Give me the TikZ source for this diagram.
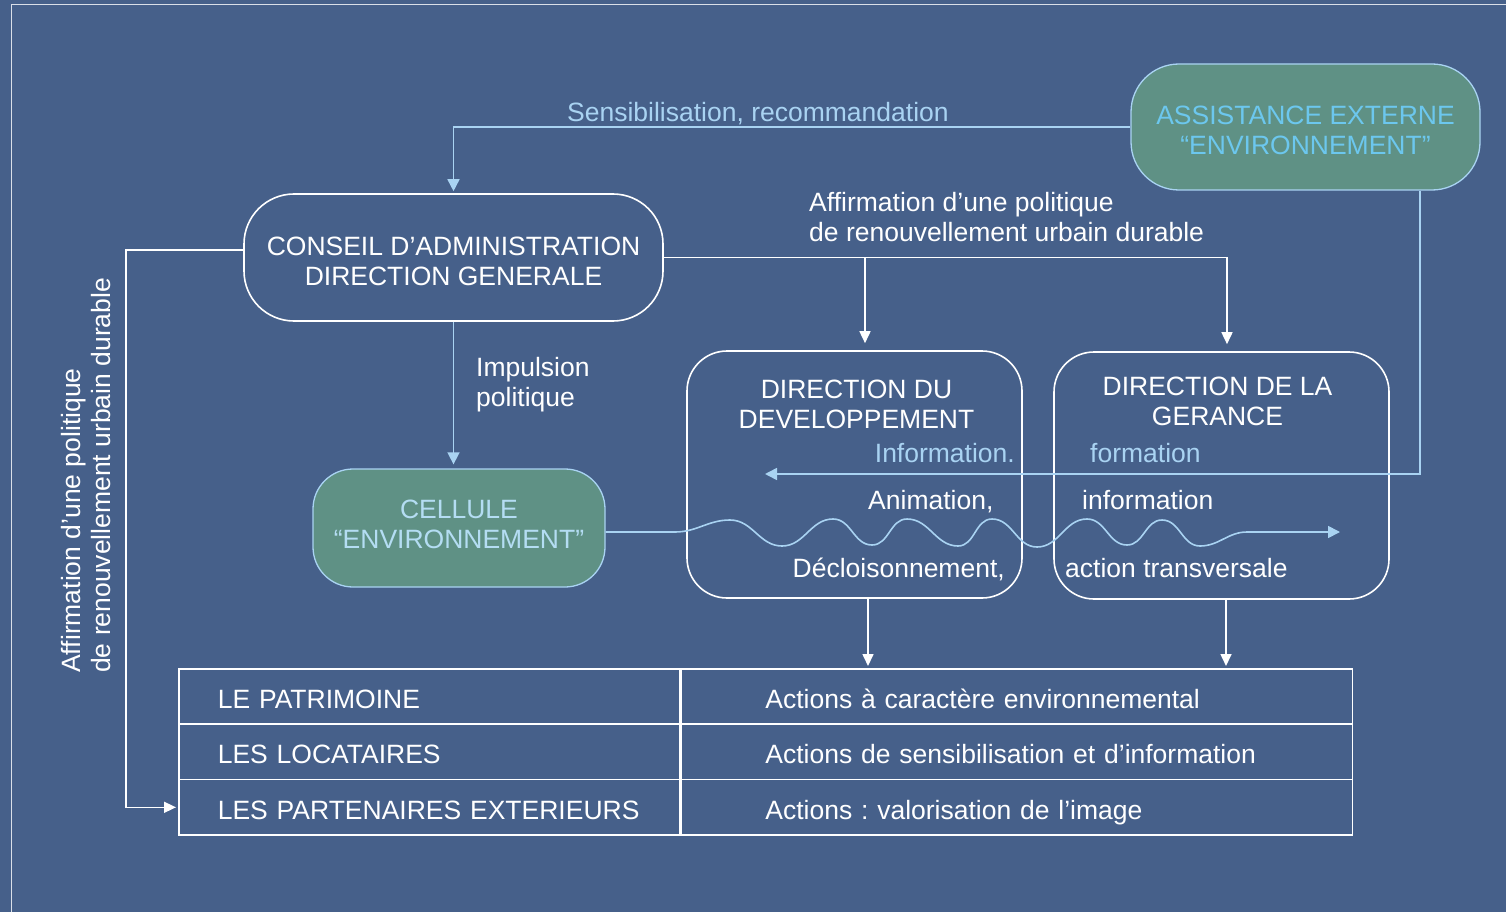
\documentclass[tikz,border=0pt]{standalone}
\usepackage{fontspec}
\setmainfont{Liberation Sans}
\usetikzlibrary{arrows.meta,positioning}

\definecolor{page blue}{HTML}{46608A}
\definecolor{cell green}{HTML}{5F9185}
\definecolor{soft blue}{HTML}{A9D3F2}
\definecolor{sky text}{HTML}{6CC7EE}
\definecolor{pale text}{HTML}{B4DDF3}
\colorlet{frame line}{white!80!page blue}
\tikzset{
  outline/.style={draw=white, line width=1.6pt, align=center, text=white},
  filled/.style={fill=cell green, draw=soft blue, line width=1.3pt, align=center},
  service/.style={outline, rounded corners=40pt, minimum width=335pt, minimum height=247pt}
  }
\tikzstyle{link} = [draw=white, line width=1.6pt, -{Triangle[length=12pt,width=11pt]}]
\tikzstyle{soft link} = [draw=soft blue, line width=1.6pt, -{Triangle[length=12pt,width=12pt]}]
\tikzstyle{note} = [text=white, inner sep=0pt]
\tikzstyle{cell} = [draw=white, line width=1.6pt, text=white, anchor=north west, minimum height=55.4pt, text height=24pt, text depth=0pt, align=left]

\frenchspacing
\begin{document}
\begin{tikzpicture}[x=1pt, y=-1pt, font=\fontsize{26.5}{30}\selectfont]

    % Background and frame
    \fill[page blue] (0,0) rectangle (1506,912);
    \useasboundingbox (0,0) rectangle (1506,912);
    \draw[frame line, line width=1pt] (11,912) -- (11,5) -- (1506,5);

    % The boxes
    \node[filled, text=sky text, text height=55pt, rounded corners=48pt, minimum width=349pt, minimum height=126pt] (assist) at (1305.5,127) {ASSISTANCE EXTERNE\\“ENVIRONNEMENT”};
    \node[outline, text height=56pt, rounded corners=50pt, minimum width=419pt, minimum height=127pt] (conseil) at (453.5,257.5) {CONSEIL D’ADMINISTRATION\\DIRECTION GENERALE};
    \node[filled, text=pale text, text depth=8pt, rounded corners=40pt, minimum width=292pt, minimum height=118pt] (cellule) at (459,528) {CELLULE\\“ENVIRONNEMENT”};
    \node[service] (dev) at (854.5,474.5) {};
    \node[service] (gerance) at (1221.5,475.5) {};
    \node[note, align=center, below=30pt of dev.north, xshift=2pt] (devtitle) {DIRECTION DU\\DEVELOPPEMENT};
    \node[note, align=center, below=26pt of gerance.north, xshift=-4pt] (gerancetitle) {DIRECTION DE LA\\GERANCE};

    % The table
    \foreach \name/\who/\what [count=\i] in {patri/LE PATRIMOINE/Actions à caractère environnemental, loc/LES LOCATAIRES/Actions de sensibilisation et d’information, part/LES PARTENAIRES EXTERIEURS/Actions : valorisation de l’image} {
      \node[cell, minimum width=501pt, text width=423pt, inner xsep=39pt] (\name) at (178,{668+55.4*(\i-1)}) {\who};
      \node[cell, minimum width=671pt, text width=503pt, inner xsep=84pt] (\name-act) at (\name.north east) {\what};
    }

    % The connections between them
    \draw[soft link, shorten >=2pt] (assist.west) -| (conseil.north);
    \node[note, text=soft blue, anchor=base west] (sensib) at (567,121.5) {Sensibilisation, recommandation};

    \draw[link, shorten >=7pt] (conseil.east) -| ([xshift=5.5pt]gerance.north);
    \draw[link, shorten >=7pt] ([xshift=10.5pt]dev.north |- conseil.east) -- ([xshift=10.5pt]dev.north);
    \node[note, align=left, anchor=west] (affirm) at (809,217.5) {Affirmation d’une politique\\de renouvellement urbain durable};

    \draw[soft link, shorten >=4pt] (conseil.south) -- (conseil.south |- cellule.north);
    \node[note, align=left, anchor=west] (impulsion) at (476,385) {Impulsion\\politique};

    \coordinate (leftbend) at (126,250);
    \draw[link, shorten >=2pt] (conseil.west |- leftbend) -- (leftbend) |- (part.west);
    \node[note, rotate=90, align=left, anchor=west] (affirmside) at (86,673) {Affirmation d’une politique\\de renouvellement urbain durable};

    % Information coming back from the assistance
    \coordinate (infotip) at (765,474);
    \draw[soft link] ([xshift=114.5pt]assist.south) |- (infotip);
    \node[note, text=soft blue, anchor=base east] (info1) at (1015,462) {Information.};
    \node[note, text=soft blue, anchor=base west] (form) at (1090,462) {formation};

    % The wave from the cellule
    \coordinate (wavetip) at (1340,532);
    \draw[soft link] (cellule.east |- wavetip) -- (675,532)
      to[out=0,in=180] (730,520) to[out=0,in=180] (782,546)
      to[out=0,in=180] (833,519) to[out=0,in=180] (872,545)
      to[out=0,in=180] (907,519) to[out=0,in=180] (958,546)
      to[out=0,in=180] (992,519) to[out=0,in=180] (1037,547)
      to[out=0,in=180] (1087,519) to[out=0,in=180] (1127,545)
      to[out=0,in=180] (1162,520) to[out=0,in=180] (1200,546)
      to[out=0,in=180] (1247,532) -- (wavetip);
    \node[note, anchor=base west] (anim) at (868,509) {Animation,};
    \node[note, anchor=base east] (decl) at (1005,577) {Décloisonnement,};
    \node[note, anchor=base west] (info2) at (1082,509) {information};
    \node[note, anchor=base west] (action) at (1065,577) {action transversale};

    % Down to the table
    \draw[link, shorten >=2pt] ([xshift=13.5pt]dev.south) -- ([xshift=13.5pt]dev.south |- patri-act.north);
    \draw[link, shorten >=2pt] ([xshift=4.5pt]gerance.south) -- ([xshift=4.5pt]gerance.south |- patri-act.north);
\end{tikzpicture}
\end{document}
